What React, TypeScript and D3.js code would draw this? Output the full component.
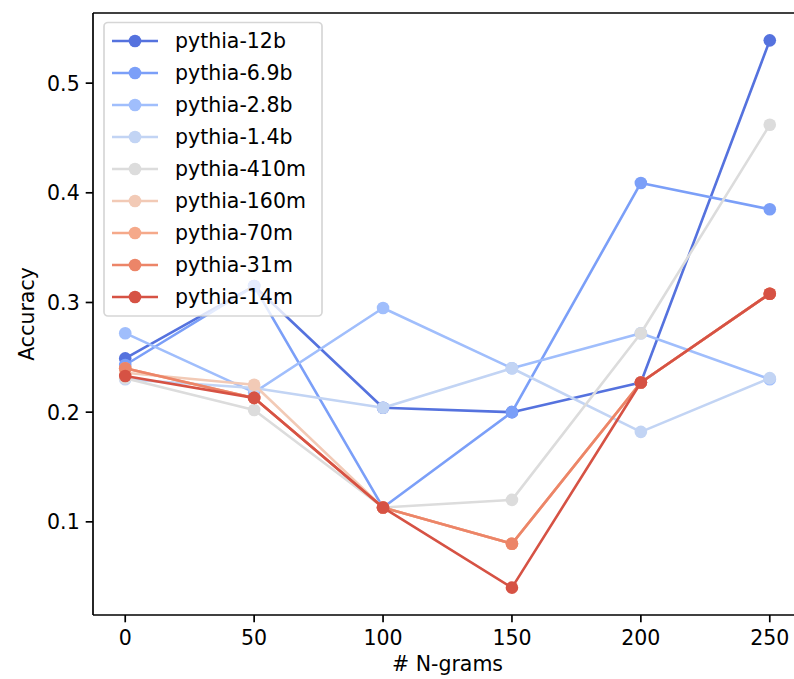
import React from "react";
import * as d3 from "d3";

const xValues = [0, 50, 100, 150, 200, 250];
const seriesNames = [
  "pythia-12b",
  "pythia-6.9b",
  "pythia-2.8b",
  "pythia-1.4b",
  "pythia-410m",
  "pythia-160m",
  "pythia-70m",
  "pythia-31m",
  "pythia-14m",
];
const seriesColors = [
  "#5572de",
  "#7b9ff8",
  "#a0befc",
  "#c2d4f4",
  "#dcdcdc",
  "#f2cab6",
  "#f5a98a",
  "#ec8568",
  "#d65244",
];
const v12b = [0.249, 0.315, 0.204, 0.2, 0.227, 0.539];
const v6_9b = [0.243, 0.315, 0.113, 0.2, 0.409, 0.385];
const v2_8b = [0.272, 0.218, 0.295, 0.24, 0.272, 0.23];
const v1_4b = [0.23, 0.222, 0.204, 0.24, 0.182, 0.231];
const v410m = [0.231, 0.202, 0.113, 0.12, 0.272, 0.462];
const v160m = [0.236, 0.225, 0.113, 0.08, 0.227, 0.308];
const v70m = [0.24, 0.213, 0.113, 0.08, 0.227, 0.308];
const v31m = [0.24, 0.213, 0.113, 0.08, 0.227, 0.308];
const v14m = [0.233, 0.213, 0.113, 0.04, 0.227, 0.308];
const seriesValues = [v12b, v6_9b, v2_8b, v1_4b, v410m, v160m, v70m, v31m, v14m];
const xTicks = [0, 50, 100, 150, 200, 250];
const yTicks = [0.1, 0.2, 0.3, 0.4, 0.5];
const xLabel = "# N-grams";
const yLabel = "Accuracy";

const W = 794;
const H = 679;
const FONT = "DejaVu Sans, sans-serif";
const FS = 20.5;

export default function App() {
  const left = 93;
  const right = 802;
  const top = 13;
  const bottom = 615;

  const allY = seriesValues.flat();
  const yMin = d3.min(allY) as number;
  const yMax = d3.max(allY) as number;
  const yPad = (yMax - yMin) * 0.05;
  const x = d3.scaleLinear().domain([-12.5, 262.5]).range([left, right]);
  const y = d3.scaleLinear().domain([yMin - yPad, yMax + yPad]).range([bottom, top]);

  const line = d3
    .line<number>()
    .x((_, i) => x(xValues[i]))
    .y((d) => y(d));

  const tickLen = 7.3;
  const legX = 104;
  const legY = 22.5;
  const legW = 218;
  const legH = 293.5;
  const rowH = 32;

  return (
    <svg
      width={W}
      height={H}
      style={{ position: "absolute", left: 0, top: 0, background: "#fff" }}
      fontFamily={FONT}
    >
      <rect x={0} y={0} width={W} height={H} fill="#fff" />
      <defs>
        <clipPath id="plotclip">
          <rect x={left} y={top} width={right - left} height={bottom - top} />
        </clipPath>
      </defs>
      <g clipPath="url(#plotclip)">
        {seriesValues.map((vals, si) => (
          <g key={seriesNames[si]}>
            <path
              d={line(vals) || ""}
              fill="none"
              stroke={seriesColors[si]}
              strokeWidth={2.6}
              strokeLinejoin="round"
            />
            {vals.map((v, i) => (
              <circle key={i} cx={x(xValues[i])} cy={y(v)} r={6.3} fill={seriesColors[si]} />
            ))}
          </g>
        ))}
      </g>
      {/* spines */}
      <g stroke="#000" strokeWidth={1.7} fill="none">
        <line x1={left} y1={top} x2={left} y2={bottom} />
        <line x1={left} y1={bottom} x2={right} y2={bottom} />
        <line x1={left} y1={top} x2={right} y2={top} />
        <line x1={right} y1={top} x2={right} y2={bottom} />
      </g>
      {/* x ticks */}
      {xTicks.map((t) => (
        <g key={t}>
          <line x1={x(t)} x2={x(t)} y1={bottom} y2={bottom + tickLen} stroke="#000" strokeWidth={1.7} />
          <text x={x(t)} y={bottom + tickLen + 7 + 16} textAnchor="middle" fontSize={FS} fill="#000">
            {t}
          </text>
        </g>
      ))}
      {/* y ticks */}
      {yTicks.map((t) => (
        <g key={t}>
          <line x1={left - tickLen} x2={left} y1={y(t)} y2={y(t)} stroke="#000" strokeWidth={1.7} />
          <text
            x={left - tickLen - 6}
            y={y(t)}
            dy="0.36em"
            textAnchor="end"
            fontSize={FS}
            fill="#000"
          >
            {t.toFixed(1)}
          </text>
        </g>
      ))}
      <text x={(left + right) / 2} y={671} textAnchor="middle" fontSize={FS} fill="#000">
        {xLabel}
      </text>
      <text
        transform={`translate(34, ${(top + bottom) / 2}) rotate(-90)`}
        textAnchor="middle"
        fontSize={FS}
        fill="#000"
      >
        {yLabel}
      </text>
      {/* legend */}
      <rect
        x={legX}
        y={legY}
        width={legW}
        height={legH}
        rx={4}
        fill="#fff"
        fillOpacity={0.8}
        stroke="#cccccc"
        strokeOpacity={0.8}
        strokeWidth={1.7}
      />
      {seriesNames.map((name, i) => {
        const cy = legY + 18.5 + i * rowH;
        return (
          <g key={name}>
            <line x1={112} x2={158} y1={cy} y2={cy} stroke={seriesColors[i]} strokeWidth={2.6} />
            <circle cx={135} cy={cy} r={6.3} fill={seriesColors[i]} />
            <text x={175} y={cy} dy="0.36em" fontSize={FS} fill="#000">
              {name}
            </text>
          </g>
        );
      })}
    </svg>
  );
}
